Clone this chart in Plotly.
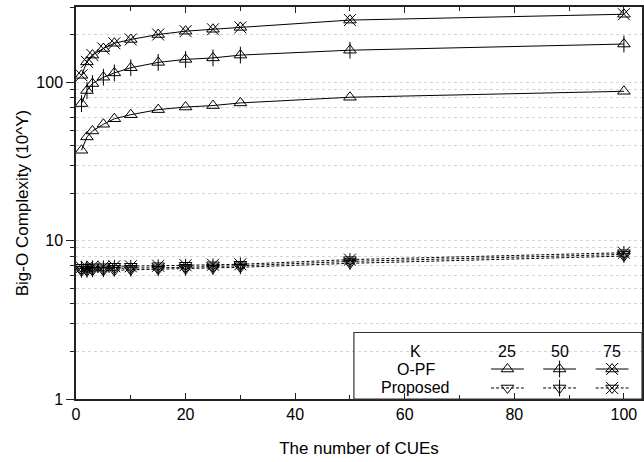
import plotly.graph_objects as go

# ---------------- data ----------------
cues = [1, 2, 3, 5, 7, 10, 15, 20, 25, 30, 50, 100]
k_values = [25, 50, 75]

opf_k25 = [37.3, 45.3, 49.4, 54.5, 59.0, 62.6, 67.4, 70.0, 71.5, 74.3, 80.7, 88.0]
opf_k50 = [73.6, 89.0, 98.5, 108.0, 115.0, 124.0, 134.0, 140.0, 143.0, 149.0, 160.0, 175.0]
opf_k75 = [111.0, 135.0, 149.0, 164.0, 177.0, 187.0, 201.0, 211.0, 217.0, 223.0, 248.0, 270.0]

prop_k25 = [6.45, 6.45, 6.5, 6.5, 6.5, 6.55, 6.6, 6.65, 6.7, 6.8, 7.2, 8.0]
prop_k50 = [6.6, 6.6, 6.65, 6.65, 6.7, 6.7, 6.75, 6.8, 6.85, 6.95, 7.4, 8.2]
prop_k75 = [6.8, 6.8, 6.85, 6.85, 6.9, 6.9, 6.95, 7.0, 7.05, 7.1, 7.6, 8.4]

y_tick_vals = [1, 10, 100]
y_tick_text = ["1", "10", "100"]
y_minor_vals = [2, 3, 4, 5, 6, 7, 8, 9, 20, 30, 40, 50, 60, 70, 80, 90, 200, 300]

FONT = "Liberation Sans, Arial, sans-serif"
BLACK = "#000000"
DASH = "3px,2px"
GRID = "#d4d4d4"

fig = go.Figure()

overlay = {25: None, 50: "line-ns-open", 75: "x-thin-open"}
MS = 11


def add_series(xs, ys, dash, base_symbol, k, xaxis="x", yaxis="y", mode="lines+markers"):
    fig.add_trace(go.Scatter(
        x=xs, y=ys, mode=mode, xaxis=xaxis, yaxis=yaxis,
        line=dict(color=BLACK, width=1, dash=dash),
        marker=dict(symbol=base_symbol, size=MS, color=BLACK, line=dict(color=BLACK, width=1)),
        showlegend=False, hoverinfo="skip"))
    if overlay[k] and "markers" in mode:
        fig.add_trace(go.Scatter(
            x=xs, y=ys, mode="markers", xaxis=xaxis, yaxis=yaxis,
            marker=dict(symbol=overlay[k], size=MS + 1, color=BLACK,
                        line=dict(color=BLACK, width=1)),
            showlegend=False, hoverinfo="skip"))


for k, ys in zip(k_values, [opf_k25, opf_k50, opf_k75]):
    add_series(cues, ys, "solid", "triangle-up-open", k)
for k, ys in zip(k_values, [prop_k25, prop_k50, prop_k75]):
    add_series(cues, ys, DASH, "triangle-down-open", k)

# ---------------- legend table (overlay axis in [0,1]) ----------------
leg_centers = [0.7623, 0.8544, 0.9472]
leg_half = 0.029
row_y = {"opf": 0.0765, "prop": 0.0281}
header_y = 0.12
for k, cx in zip(k_values, leg_centers):
    for row, dash, sym in [("opf", "solid", "triangle-up-open"), ("prop", DASH, "triangle-down-open")]:
        add_series([cx - leg_half, cx + leg_half], [row_y[row]] * 2, dash, sym, k,
                   xaxis="x2", yaxis="y2", mode="lines")
        add_series([cx], [row_y[row]], dash, sym, k, xaxis="x2", yaxis="y2", mode="markers")
    fig.add_annotation(x=cx, y=header_y, xref="x2", yref="y2", text=str(k), showarrow=False,
                       font=dict(size=16, color=BLACK, family=FONT))

label_x = 0.600
for txt, yy in [("K", header_y), ("O-PF", row_y["opf"]), ("Proposed", row_y["prop"])]:
    fig.add_annotation(x=label_x, y=yy, xref="x2", yref="y2", text=txt, showarrow=False,
                       font=dict(size=16, color=BLACK, family=FONT))

fig.add_shape(type="rect", xref="paper", yref="paper", x0=0.491, x1=1.0, y0=0.0, y1=0.1696,
              line=dict(color="#333333", width=1.2), fillcolor="rgba(0,0,0,0)", layer="above")

fig.update_layout(
    width=644, height=462,
    margin=dict(l=76, r=0, t=7, b=63),
    paper_bgcolor="white", plot_bgcolor="white",
    font=dict(family=FONT, size=16, color=BLACK),
    xaxis=dict(
        range=[0, 103.3], tickmode="linear", tick0=0, dtick=20,
        ticks="inside", ticklen=6, tickwidth=1.2, tickcolor="#222",
        showline=True, linecolor="#222", linewidth=1.5, mirror="ticks",
        showgrid=False, zeroline=False,
        minor=dict(dtick=10, tick0=0, ticks="inside", ticklen=4, tickcolor="#222", showgrid=False),
        tickfont=dict(size=16, family=FONT, color=BLACK),
        title=dict(text="The number of CUEs", font=dict(size=17, family=FONT, color=BLACK), standoff=20),
    ),
    yaxis=dict(
        type="log", range=[0, 2.4771],
        tickmode="array", tickvals=y_tick_vals, ticktext=y_tick_text,
        ticks="outside", ticklen=8, tickwidth=1.2, tickcolor="#222",
        showline=True, linecolor="#222", linewidth=1.5, mirror=True,
        showgrid=True, gridcolor=GRID, griddash="dot", gridwidth=1,
        zeroline=False,
        minor=dict(tickmode="array", tickvals=y_minor_vals, ticks="outside", ticklen=4,
                   tickcolor="#222", showgrid=True, gridcolor=GRID, griddash="dot", gridwidth=1),
        tickfont=dict(size=16, family=FONT, color=BLACK),
        title=dict(text="Big-O Complexity (10^Y)", font=dict(size=17, family=FONT, color=BLACK), standoff=3),
    ),
    xaxis2=dict(range=[0, 1], overlaying="x", visible=False, anchor="y2"),
    yaxis2=dict(range=[0, 1], overlaying="y", visible=False, anchor="x2"),
    showlegend=False,
)

fig.write_html("out.html")
